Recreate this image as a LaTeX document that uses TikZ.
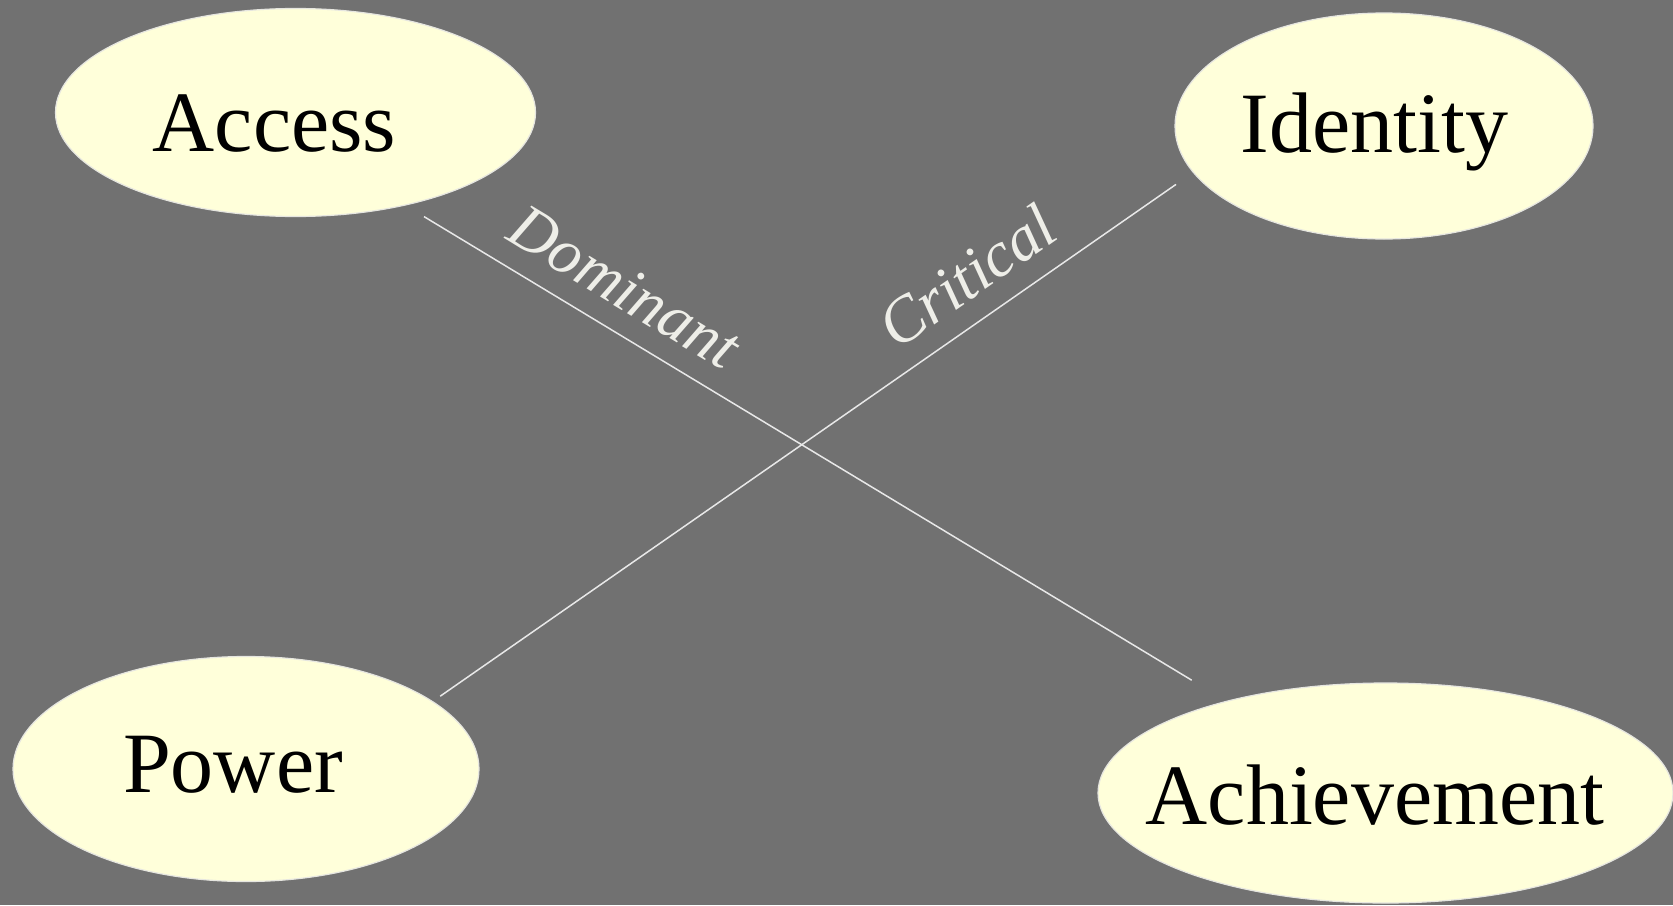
\documentclass[tikz,border=0pt]{standalone}
\usepackage{fontspec}
\setmainfont{Liberation Serif}
\usetikzlibrary{shapes.geometric}
\definecolor{bg}{HTML}{717171}
\definecolor{nodefill}{HTML}{FFFFDA}
\definecolor{nodeedge}{HTML}{E6E6E0}
\definecolor{linecol}{HTML}{E8E8E8}
\definecolor{labcol}{HTML}{EEEEE8}
\begin{document}
\begin{tikzpicture}[x=1pt,y=-1pt,
  oval/.style={ellipse, draw=nodeedge, line width=1.2pt, fill=nodefill, inner sep=0pt},
  ovaltext/.style={anchor=base, inner sep=0pt, font=\fontsize{86}{90}\selectfont, text=black},
  conn/.style={draw=linecol, line width=1.5pt},
  linklabel/.style={sloped, anchor=south, inner xsep=0pt, inner ysep=21pt, text=labcol, font=\fontsize{64}{70}\selectfont\itshape}]
\useasboundingbox (0,0) rectangle (1673,905);
\fill[bg] (0,0) rectangle (1673,905);
% ellipses
\node[oval, minimum width=480pt, minimum height=208pt] (access) at (295.5,112.5) {};
\node[oval, minimum width=418pt, minimum height=226pt] (identity) at (1384,126) {};
\node[oval, minimum width=466pt, minimum height=225pt] (power) at (246,769) {};
\node[oval, minimum width=575pt, minimum height=220pt] (achievement) at (1385.5,793) {};
% texts
\node[ovaltext] (accesst) at (274.5,151.7) {Access};
\node[ovaltext] (identityt) at (1374.5,152.7) {Identity};
\node[ovaltext] (powert) at (233,792.3) {Power};
\node[ovaltext] (achievementt) at (1375,824) {Achievement};
% connector end points
\coordinate (domA) at (424,216.6);
\coordinate (domB) at (1191.7,680.2);
\coordinate (critA) at (440.2,696.2);
\coordinate (critB) at (1176,184.4);
\draw[conn] (domA) -- node[linklabel, pos=0.232] (domlab) {Dominant} (domB);
\draw[conn] (critA) -- node[linklabel, pos=0.75] (critlab) {Critical} (critB);
\end{tikzpicture}
\end{document}
